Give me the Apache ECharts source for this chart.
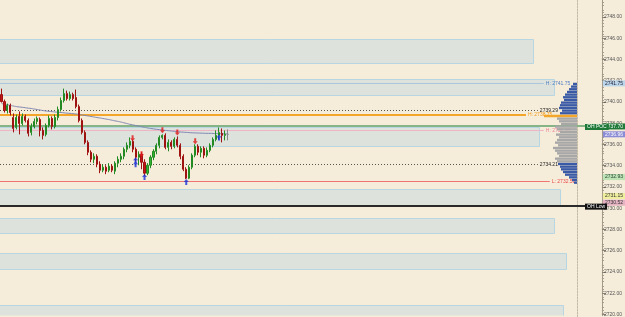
<!DOCTYPE html>
<html><head><meta charset="utf-8">
<script src="https://cdn.jsdelivr.net/npm/echarts@6/dist/echarts.min.js"></script>
<style>html,body{margin:0;padding:0;background:#F5ECDA;overflow:hidden}#c{width:625px;height:317px}</style>
</head><body><div id="c"></div>
<script>
// ---- candles (OHLC) ----
const opens  = [2740.70,2740.04,2739.20,2739.67,2738.54,2737.61,2738.64,2737.98,2738.64,2738.26,2737.14,2737.70,2738.17,2738.36,2737.33,2736.95,2737.79,2738.45,2737.70,2738.54,2739.29,2740.14,2740.79,2740.32,2740.70,2740.42,2739.57,2738.26,2737.14,2736.20,2735.27,2734.61,2734.89,2734.14,2733.58,2733.86,2733.58,2733.96,2733.49,2734.24,2734.61,2734.89,2735.55,2735.92,2736.30,2735.55,2734.80,2735.08,2734.33,2733.30,2734.05,2734.80,2735.36,2735.92,2736.67,2736.86,2735.73,2736.20,2735.83,2736.48,2735.92,2734.89,2733.67,2732.83,2733.86,2734.99,2735.83,2735.27,2735.64,2734.99,2735.45,2735.92,2736.48,2736.86,2737.05,2736.86,2736.95];
const closes = [2740.04,2739.20,2739.67,2739.01,2737.51,2738.54,2737.98,2738.64,2738.26,2737.05,2737.70,2738.17,2738.45,2737.33,2736.86,2737.79,2738.45,2737.70,2738.54,2739.29,2740.14,2740.79,2740.32,2740.70,2740.32,2739.57,2738.26,2737.14,2736.20,2735.27,2734.61,2734.89,2734.14,2733.58,2733.86,2733.49,2733.96,2733.58,2734.24,2734.61,2734.89,2735.55,2735.92,2736.30,2735.55,2734.80,2735.08,2734.33,2733.30,2734.05,2734.80,2735.36,2735.92,2736.67,2736.86,2735.73,2736.20,2735.83,2736.48,2735.92,2734.89,2733.67,2732.83,2733.86,2734.99,2735.83,2735.27,2735.64,2734.99,2735.45,2735.92,2736.48,2736.86,2737.14,2736.86,2736.95,2736.95];
const highs  = [2741.26,2740.23,2739.85,2739.85,2738.92,2738.82,2739.11,2738.92,2738.82,2738.45,2737.98,2738.45,2738.64,2738.54,2737.61,2737.98,2738.73,2738.64,2738.82,2739.57,2740.42,2741.26,2741.07,2740.98,2740.88,2741.17,2739.76,2738.45,2737.33,2736.39,2735.45,2735.17,2735.08,2734.42,2734.14,2734.05,2734.24,2734.14,2734.42,2734.89,2735.17,2735.73,2736.20,2736.67,2736.48,2735.73,2735.36,2735.27,2734.61,2734.24,2734.99,2735.55,2736.11,2736.86,2736.95,2737.05,2736.48,2736.39,2736.67,2736.76,2736.11,2735.08,2733.86,2734.05,2735.17,2736.02,2736.02,2735.83,2735.83,2735.73,2736.11,2736.67,2737.33,2737.61,2737.51,2737.33,2737.42];
const lows   = [2739.95,2739.01,2738.92,2738.73,2737.14,2737.42,2736.95,2737.79,2738.08,2736.76,2736.86,2737.51,2737.89,2736.76,2736.48,2736.76,2737.61,2737.42,2737.51,2738.26,2739.11,2739.95,2740.14,2740.14,2740.14,2739.39,2738.08,2736.95,2736.02,2734.99,2734.33,2734.24,2733.86,2733.30,2733.39,2733.21,2733.39,2733.39,2733.21,2733.86,2734.33,2734.61,2735.27,2735.64,2735.27,2734.42,2734.05,2733.67,2733.02,2733.11,2733.77,2734.52,2735.08,2735.64,2736.48,2735.55,2735.36,2735.55,2735.64,2735.73,2734.61,2733.49,2732.74,2732.74,2733.67,2734.80,2734.99,2734.80,2734.70,2734.80,2735.27,2735.73,2736.30,2736.48,2736.20,2736.39,2736.39];
// ---- moving average ----
const maValues = [2739.85,2739.80,2739.74,2739.68,2739.62,2739.57,2739.53,2739.50,2739.46,2739.42,2739.39,2739.34,2739.29,2739.24,2739.19,2739.15,2739.12,2739.09,2739.06,2739.03,2739.01,2738.98,2738.95,2738.93,2738.90,2738.87,2738.83,2738.78,2738.73,2738.69,2738.64,2738.59,2738.54,2738.50,2738.45,2738.40,2738.35,2738.29,2738.23,2738.18,2738.12,2738.05,2737.98,2737.91,2737.85,2737.79,2737.73,2737.67,2737.62,2737.56,2737.51,2737.47,2737.43,2737.40,2737.36,2737.33,2737.30,2737.27,2737.24,2737.21,2737.18,2737.16,2737.14,2737.12,2737.10,2737.09,2737.08,2737.07,2737.06,2737.05,2737.05,2737.04,2737.03,2737.02,2737.01,2737.00,2737.00];
// ---- signals [bar index, price] ----
const sellSignals = [[44,2736.58],[47,2735.08],[54,2737.33],[59,2737.14],[65,2736.30]];
const buySignals  = [[45,2734.52],[45,2734.14],[48,2732.93],[62,2732.46],[73,2736.67]];
// ---- zones ----
const zoneEnds    = [178,185,180,187,185,189,188];
const zoneTops    = [2745.94,2742.19,2737.61,2731.80,2729.09,2725.81,2720.85];
const zoneBottoms = [2743.69,2740.70,2735.83,2730.30,2727.68,2724.31,2719.50];
// ---- horizontal levels ----
const levelPrices = [2741.75,2739.29,2738.75,2737.70,2737.35,2734.21,2732.58,2730.24];
const levelEnds   = [182,180,176,201,182,180,184,201];
const levelLabels = ['H: 2741.75','2739.29','H: 2738.75','','H: 2737.35','2734.21','L: 2732.58',''];
// ---- volume profile ----
const profilePrices  = [2741.75,2741.5,2741.25,2741.0,2740.75,2740.5,2740.25,2740.0,2739.75,2739.5,2739.25,2739.0,2738.75,2738.5,2738.25,2738.0,2737.75,2737.5,2737.25,2737.0,2736.75,2736.5,2736.25,2736.0,2735.75,2735.5,2735.25,2735.0,2734.75,2734.5,2734.25,2734.0,2733.75,2733.5,2733.25,2733.0,2732.75,2732.5];
const profileVolumes = [4,6,8,10,12,14,13,16,17,18,15,17,33,20,18,16,22,20,17,21,18,20,22,19,24,22,20,18,22,20,19,17,16,14,12,8,5,3];
const profilePoc = 2738.75, valueAreaHigh = 2738.5, valueAreaLow = 2734.5;
// ---- price axis ----
const axisTickLabels = [2720,2722,2724,2726,2728,2730,2732,2734,2736,2738,2740,2742,2744,2746,2748];
const axisTagPrices = [2741.75,2737.70,2736.96,2732.93,2731.15,2730.52];
const axisTagTexts  = ['2741.75','2737.70','2736.96','2732.93','2731.15','2730.52'];
const sideTagPrices = [2737.70,2730.24];
const sideTagTexts  = ['OH POC','OH Low'];

const priceMin = 2719.9, priceMax = 2749.6;
const slotCount = 202;
const categories = Array.from({length: slotCount}, (_, i) => String(i));
const FONT = 'Liberation Sans';

const tagBg = ['#BCD6EC','#1F7A3A','#8C8CD6','#BFE2B5','#EEEE9E','#E6B3C3'];
const tagFg = ['#223','#fff','#fff','#243','#333','#333'];
const levelStyles = [
  {stroke:'#A9C6DD', lineWidth:1, lineDash:null, text:'#4F7FC6'},
  {stroke:'#555', lineWidth:1, lineDash:[1,2], text:'#222'},
  {stroke:'#F4A62A', lineWidth:2, lineDash:null, text:'#F29A18'},
  {stroke:'#86B486', lineWidth:2, lineDash:null, text:'#000'},
  {stroke:'#EEB5C6', lineWidth:1, lineDash:null, text:'#EE7F96'},
  {stroke:'#555', lineWidth:1, lineDash:[1,2], text:'#222'},
  {stroke:'#F07474', lineWidth:1, lineDash:null, text:'#EE4A4A'},
  {stroke:'#2A2A2A', lineWidth:2, lineDash:null, text:'#000'}
];

const chart = echarts.init(document.getElementById('c'), null, {renderer:'canvas'});
const arrowPath = 'path://M5,0 L10,5 L7,5 L7,10 L3,10 L3,5 L0,5 Z';

chart.setOption({
  backgroundColor: '#F5ECDA',
  animation: false,
  grid: [
    {left: 0, right: 19, top: 0, bottom: 0},
    {left: 500, right: 48, top: 0, bottom: 0}
  ],
  xAxis: [
    {type:'category', data: categories, gridIndex:0, show:false, boundaryGap:true},
    {type:'value', gridIndex:1, min:0, max:77, inverse:true, show:false}
  ],
  yAxis: [
    {type:'value', gridIndex:0, position:'right', min:priceMin, max:priceMax, interval:1,
     splitLine:{show:false},
     axisLine:{show:true, lineStyle:{color:'#A39A8A', width:1}},
     axisTick:{show:true, customValues: axisTickLabels, length:4, inside:false, lineStyle:{color:'#8C8474'}},
     minorTick:{show:true, splitNumber:4, length:2, lineStyle:{color:'#A39A8A'}},
     axisLabel:{customValues: axisTickLabels, formatter: v => v.toFixed(2), fontSize:5, color:'#555', margin:2, fontFamily:FONT}
    },
    {type:'value', gridIndex:1, position:'right', min:priceMin, max:priceMax,
     splitLine:{show:false}, axisTick:{show:false}, axisLabel:{show:false},
     axisLine:{show:true, onZero:false, lineStyle:{color:'#C6BBA8', type:[2,1], width:1}}
    }
  ],
  series: [
    {
      type:'custom', xAxisIndex:0, yAxisIndex:0, z:1, clip:true, silent:true,
      data: zoneEnds.map((e,i)=>[e, zoneTops[i], zoneBottoms[i]]),
      renderItem(params, api){
        const e = api.value(0);
        const pt = api.coord([e, api.value(1)]);
        const pb = api.coord([e, api.value(2)]);
        const half = api.size([1,0])[0]/2;
        const x0 = params.coordSys.x - 2;
        return {type:'rect', shape:{x:x0+0.5, y:Math.round(pt[1])+0.5, width:Math.round(pt[0]+half-x0), height:Math.round(pb[1]-pt[1])},
          style:{fill:'#DDE3DC', stroke:'#B7D6E1', lineWidth:1}};
      }
    },
    {
      type:'custom', xAxisIndex:0, yAxisIndex:0, z:2, clip:false, silent:true,
      data: levelPrices.map((p,i)=>[levelEnds[i], p, i]),
      renderItem(params, api){
        const idx = api.value(2);
        const st = levelStyles[idx];
        const p = api.coord([api.value(0), api.value(1)]);
        const cs = params.coordSys;
        const x1 = api.value(0) >= slotCount-1 ? cs.x + cs.width : p[0];
        const y = Math.round(p[1]) + (st.lineWidth % 2 ? 0.5 : 0);
        const children = [{type:'line', shape:{x1:cs.x, y1:y, x2:x1, y2:y},
          style:{stroke:st.stroke, lineWidth:st.lineWidth, lineDash:st.lineDash}}];
        if (levelLabels[idx]) children.push({type:'text', x:x1+2, y:y,
          style:{text:levelLabels[idx], fill:st.text, fontSize:5, fontFamily:FONT, verticalAlign:'middle', align:'left'}});
        return {type:'group', children};
      }
    },
    {
      type:'line', xAxisIndex:0, yAxisIndex:0, z:3, data: maValues, smooth:true, showSymbol:false, silent:true,
      lineStyle:{color:'#7F86B2', width:1}
    },
    {
      type:'candlestick', xAxisIndex:0, yAxisIndex:0, z:4, barWidth:1.6, silent:true,
      data: opens.map((o,i)=>[o, closes[i], lows[i], highs[i]]),
      itemStyle:{color:'#2FB52F', color0:'#C41616', borderColor:'#238A23', borderColor0:'#9E1212', borderColorDoji:'#8A8A8A', borderWidth:1},
      markLine:{
        silent:true, symbol:['none','none'], animation:false,
        lineStyle:{color:'rgba(0,0,0,0)', width:0},
        data: axisTagPrices.map((p,i)=>({yAxis:p, label:{show:true, position:'end', distance:1, formatter:axisTagTexts[i],
          backgroundColor:tagBg[i], color:tagFg[i], fontSize:5, fontFamily:FONT, padding:[1,2,0,2]}}))
      }
    },
    {
      type:'scatter', xAxisIndex:0, yAxisIndex:0, z:5, data: sellSignals, symbol: arrowPath, symbolRotate:180,
      symbolSize:[5,6], itemStyle:{color:'#E01818'}, silent:true
    },
    {
      type:'scatter', xAxisIndex:0, yAxisIndex:0, z:5, data: buySignals, symbol: arrowPath,
      symbolSize:[5,6], itemStyle:{color:'#1830D8'}, silent:true
    },
    {
      type:'custom', xAxisIndex:1, yAxisIndex:1, z:3, silent:true,
      data: profilePrices.map((p,i)=>[profileVolumes[i], p]),
      renderItem(params, api){
        const v = api.value(0), p = api.value(1);
        const a = api.coord([0, p + 0.125]);
        const b = api.coord([v, p - 0.125]);
        let fill = '#A7A7A7';
        if (p === profilePoc) fill = '#F4A62A';
        else if (p > valueAreaHigh || p < valueAreaLow) fill = '#3A5AA6';
        return {type:'rect', shape:{x:b[0], y:a[1]+0.3, width:a[0]-b[0], height:b[1]-a[1]-0.3}, style:{fill}};
      },
      markLine:{
        silent:true, symbol:['none','none'], animation:false,
        lineStyle:{color:'rgba(0,0,0,0)', width:0},
        data: sideTagPrices.map((p,i)=>({yAxis:p, label:{show:true, position:'start', distance:8, formatter:sideTagTexts[i],
          backgroundColor: i===0 ? '#1F7A3A' : '#111', color:'#fff', fontSize:5, fontFamily:FONT, padding:[1,2,0,2]}}))
      }
    }
  ]
});
</script></body></html>
